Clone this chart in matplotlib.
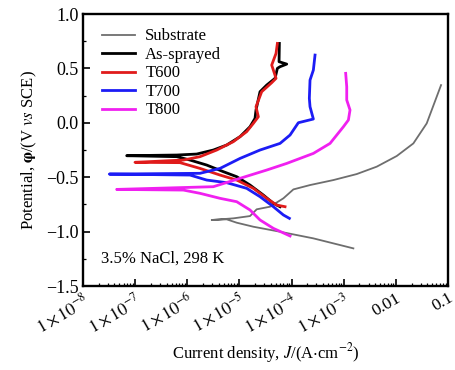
import numpy as np
import matplotlib
matplotlib.use("Agg")
import matplotlib.pyplot as plt
from matplotlib.ticker import FixedLocator, LogLocator, NullFormatter, MultipleLocator

plt.rcParams['font.family'] = ['Liberation Serif', 'DejaVu Serif']
plt.rcParams['mathtext.fontset'] = 'stix'

# ================= DATA (log10 J, E) =================
# each curve: cathodic end -> Ecorr -> anodic end
sub_logj = [-2.815, -3.582, -4.221, -4.733, -5.052, -5.244, -5.532,
            -5.116, -4.797, -4.669, -4.413, -4.157, -3.965, -3.646, -3.198,
            -2.751, -2.367, -1.983, -1.664, -1.408, -1.133]
sub_e = [-1.154, -1.062, -1.001, -0.955, -0.918, -0.887, -0.893,
         -0.878, -0.857, -0.795, -0.771, -0.694, -0.612, -0.572, -0.526,
         -0.471, -0.403, -0.305, -0.189, -0.005, 0.347]

asp_logj = [-4.221, -4.349, -4.541, -4.797, -5.052, -5.308, -5.628, -5.948, -6.203, -7.162,
            -6.203, -5.820, -5.500, -5.244, -4.988, -4.797, -4.701, -4.682, -4.605, -4.477,
            -4.317, -4.272, -4.221, -4.093, -4.240, -4.234]
asp_e = [-0.771, -0.740, -0.664, -0.572, -0.495, -0.449, -0.388, -0.342, -0.311, -0.302,
         -0.296, -0.287, -0.250, -0.204, -0.127, -0.036, 0.041, 0.118, 0.286, 0.347,
         0.409, 0.501, 0.516, 0.540, 0.562, 0.730]

t600_logj = [-4.125, -4.285, -4.477, -4.733, -5.052, -5.372, -5.756, -6.139, -7.003,
             -6.075, -5.756, -5.436, -5.116, -4.861, -4.733, -4.637, -4.682, -4.573, -4.381,
             -4.298, -4.349, -4.381, -4.298, -4.272]
t600_e = [-0.771, -0.756, -0.694, -0.602, -0.526, -0.480, -0.419, -0.366, -0.363,
          -0.342, -0.311, -0.250, -0.173, -0.081, -0.005, 0.056, 0.148, 0.286, 0.369,
          0.409, 0.485, 0.531, 0.638, 0.730]

t700_logj = [-4.042, -4.157, -4.349, -4.605, -4.861, -5.244, -5.628, -5.948, -7.495,
             -5.756, -5.372, -4.988, -4.605, -4.221, -4.029, -3.870, -3.582, -3.646, -3.659,
             -3.646, -3.582, -3.550]
t700_e = [-0.878, -0.847, -0.771, -0.679, -0.602, -0.550, -0.526, -0.480, -0.471,
          -0.464, -0.419, -0.327, -0.250, -0.189, -0.112, 0.001, 0.035, 0.148, 0.225,
          0.393, 0.485, 0.623]

t800_logj = [-4.029, -4.349, -4.605, -4.797, -5.052, -5.372, -5.756, -6.075, -7.354,
             -5.500, -4.988, -4.477, -4.093, -3.582, -3.262, -3.006, -2.910, -2.879, -2.942,
             -2.942, -2.962]
t800_e = [-1.040, -0.970, -0.893, -0.801, -0.725, -0.694, -0.648, -0.618, -0.612,
          -0.587, -0.510, -0.434, -0.373, -0.281, -0.189, -0.036, 0.026, 0.118, 0.210,
          0.332, 0.455]

x_ticks = [1e-8, 1e-7, 1e-6, 1e-5, 1e-4, 1e-3, 1e-2, 1e-1]
x_labels = [r'$1\times10^{-8}$', r'$1\times10^{-7}$', r'$1\times10^{-6}$',
            r'$1\times10^{-5}$', r'$1\times10^{-4}$', r'$1\times10^{-3}$', '0.01', '0.1']

curves = [
    ("Substrate", sub_logj, sub_e, "#6e6e6e", 1.3),
    ("As-sprayed", asp_logj, asp_e, "black", 2.0),
    ("T600", t600_logj, t600_e, "#e01b1b", 2.0),
    ("T700", t700_logj, t700_e, "#1c1cf5", 2.0),
    ("T800", t800_logj, t800_e, "#f020f0", 2.0),
]

# ================= PLOT =================
fig = plt.figure(figsize=(4.55, 3.70), dpi=100)
ax = fig.add_axes([0.1824, 0.227, 0.8022, 0.735])

for name, lj, e, col, lw in curves:
    ax.plot(10 ** np.array(lj), e, color=col, lw=lw, label=name)

ax.set_xscale('log')
ax.set_xlim(1e-8, 1e-1)
ax.set_ylim(-1.5, 1.0)

ax.xaxis.set_major_locator(FixedLocator(x_ticks))
ax.set_xticklabels(x_labels, rotation=30, ha='right', rotation_mode='anchor', fontsize=12.5)
ax.xaxis.set_minor_locator(LogLocator(base=10, subs=np.arange(2, 10), numticks=20))
ax.xaxis.set_minor_formatter(NullFormatter())

ax.yaxis.set_minor_locator(MultipleLocator(0.25))
ax.set_yticks([1.0, 0.5, 0.0, -0.5, -1.0, -1.5])
ax.set_yticklabels(['1.0', '0.5', '0.0', '\u22120.5', '\u22121.0', '\u22121.5'], fontsize=13)

ax.tick_params(which='major', direction='in', length=5, width=1.2)
ax.tick_params(which='minor', direction='in', length=2.5, width=0.9)
ax.tick_params(axis='x', pad=3)
ax.tick_params(axis='y', pad=3)
for sp in ax.spines.values():
    sp.set_linewidth(1.7)

ax.set_xlabel(r'Current density, $J$/(A$\cdot$cm$^{-2}$)', fontsize=12, labelpad=3)
ax.set_ylabel(r'Potential, $\boldsymbol{\varphi}$/(V $\mathit{vs}$ SCE)', fontsize=12, labelpad=5)

ax.text(0.05, 0.10, '3.5% NaCl, 298 K', transform=ax.transAxes, fontsize=12, va='center')

ax.legend(loc='upper left', frameon=False, fontsize=12, handlelength=2.0,
          labelspacing=0.15, borderaxespad=0.3, handletextpad=0.6,
          bbox_to_anchor=(0.02, 0.99))

fig.savefig("out.png", dpi=100)
plt.close(fig)
